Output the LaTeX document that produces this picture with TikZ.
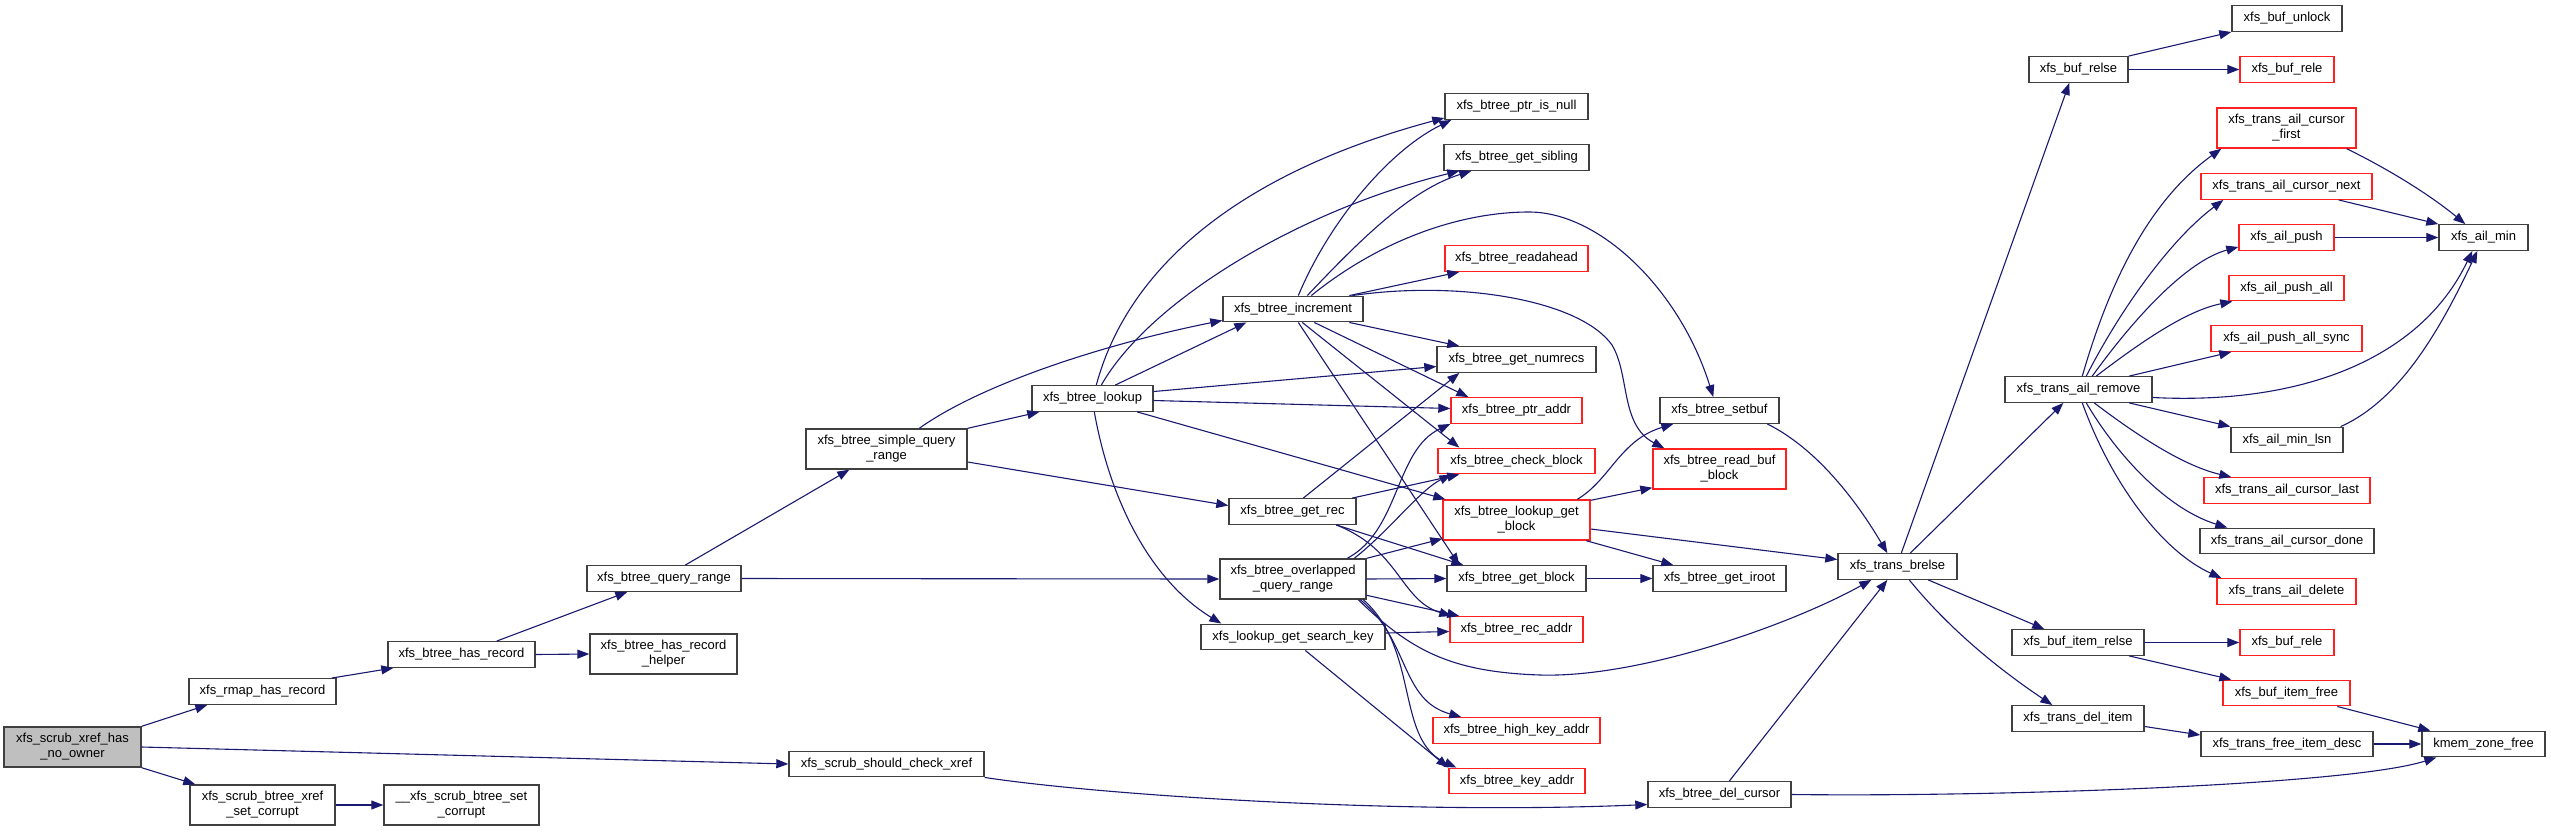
\documentclass[tikz,border=0pt]{standalone}
\usepackage{fontspec}
\setmainfont{Liberation Sans}
\usetikzlibrary{arrows.meta}
\definecolor{edgeblue}{HTML}{191970}
\definecolor{boxgray}{HTML}{404040}
\definecolor{rootfill}{HTML}{BFBFBF}
\definecolor{boxred}{HTML}{FF2020}
\begin{document}
\begin{tikzpicture}[x=1pt,y=-1pt,
 fn/.style={draw=boxgray, line width=1.4pt, fill=white, inner sep=0pt, minimum height=25.5pt, align=center, font=\fontsize{13}{15}\selectfont},
 fn2/.style={fn, minimum height=40pt},
 redbox/.style={draw=boxred},
 call/.style={draw=edgeblue, line width=1.1pt, -{Triangle[length=12pt,width=9pt]}}]
\useasboundingbox (0,0) rectangle (2551,831);

% nodes
\node[fn2, fill=rootfill, minimum width=137pt] (root) at (72.5,747) {xfs\_scrub\_xref\_has\\\_no\_owner};
\node[fn, minimum width=147pt] (rmap) at (262.5,691.5) {xfs\_rmap\_has\_record};
\node[fn, minimum width=147pt] (hasrec) at (461.5,654.5) {xfs\_btree\_has\_record};
\node[fn2, minimum width=145pt] (xrefcorrupt) at (262.5,805) {xfs\_scrub\_btree\_xref\\\_set\_corrupt};
\node[fn2, minimum width=155pt] (setcorrupt) at (461.5,805) {\_\_xfs\_scrub\_btree\_set\\\_corrupt};
\node[fn, minimum width=154pt] (queryrange) at (664,578.5) {xfs\_btree\_query\_range};
\node[fn2, minimum width=147pt] (helper) at (663.5,654) {xfs\_btree\_has\_record\\\_helper};
\node[fn2, minimum width=161pt] (simple) at (886.5,449) {xfs\_btree\_simple\_query\\\_range};
\node[fn, minimum width=195pt] (shouldcheck) at (886.5,764) {xfs\_scrub\_should\_check\_xref};
\node[fn, minimum width=121pt] (lookup) at (1092.5,398.5) {xfs\_btree\_lookup};
\node[fn, minimum width=140pt] (increment) at (1293,309) {xfs\_btree\_increment};
\node[fn, minimum width=127pt] (getrec) at (1292.5,511.5) {xfs\_btree\_get\_rec};
\node[fn2, minimum width=146pt] (overlapped) at (1293,579) {xfs\_btree\_overlapped\\\_query\_range};
\node[fn, minimum width=184pt] (searchkey) at (1293,637) {xfs\_lookup\_get\_search\_key};
\node[fn, minimum width=143pt] (ptrisnull) at (1516.5,106.5) {xfs\_btree\_ptr\_is\_null};
\node[fn, minimum width=145pt] (getsibling) at (1516.5,157.5) {xfs\_btree\_get\_sibling};
\node[fn, redbox, minimum width=143pt] (readahead) at (1516.5,258.5) {xfs\_btree\_readahead};
\node[fn, minimum width=159pt] (getnumrecs) at (1516.5,359.5) {xfs\_btree\_get\_numrecs};
\node[fn, redbox, minimum width=131pt] (ptraddr) at (1516.5,410.5) {xfs\_btree\_ptr\_addr};
\node[fn, redbox, minimum width=157pt] (checkblock) at (1516.5,461) {xfs\_btree\_check\_block};
\node[fn2, redbox, minimum width=147pt] (lookupgetblock) at (1516.5,520) {xfs\_btree\_lookup\_get\\\_block};
\node[fn, minimum width=139pt] (getblock) at (1516.5,578.5) {xfs\_btree\_get\_block};
\node[fn, redbox, minimum width=133pt] (recaddr) at (1516.5,629.5) {xfs\_btree\_rec\_addr};
\node[fn, redbox, minimum width=167pt] (highkey) at (1516.5,730.5) {xfs\_btree\_high\_key\_addr};
\node[fn, redbox, minimum width=136pt] (keyaddr) at (1517,781) {xfs\_btree\_key\_addr};
\node[fn, minimum width=119pt] (setbuf) at (1719.5,410.5) {xfs\_btree\_setbuf};
\node[fn2, redbox, minimum width=133pt] (readbuf) at (1719.5,469) {xfs\_btree\_read\_buf\\\_block};
\node[fn, minimum width=133pt] (getiroot) at (1719.5,578.5) {xfs\_btree\_get\_iroot};
\node[fn, minimum width=143pt] (delcursor) at (1719.5,794.5) {xfs\_btree\_del\_cursor};
\node[fn, minimum width=119pt] (brelse) at (1897.5,566.5) {xfs\_trans\_brelse};
\node[fn, minimum width=99pt] (bufrelse) at (2078.5,69.5) {xfs\_buf\_relse};
\node[fn, minimum width=147pt] (ailremove) at (2078.5,389.5) {xfs\_trans\_ail\_remove};
\node[fn, minimum width=132pt] (bufitemrelse) at (2078,642.5) {xfs\_buf\_item\_relse};
\node[fn, minimum width=132pt] (transdelitem) at (2078,718.5) {xfs\_trans\_del\_item};
\node[fn, minimum width=110pt] (bufunlock) at (2287,18.5) {xfs\_buf\_unlock};
\node[fn, redbox, minimum width=94pt] (bufrele1) at (2287,69.5) {xfs\_buf\_rele};
\node[fn2, redbox, minimum width=139pt] (cursorfirst) at (2286.5,128) {xfs\_trans\_ail\_cursor\\\_first};
\node[fn, redbox, minimum width=171pt] (cursornext) at (2286.5,186.5) {xfs\_trans\_ail\_cursor\_next};
\node[fn, redbox, minimum width=95pt] (ailpush) at (2286.5,237.5) {xfs\_ail\_push};
\node[fn, redbox, minimum width=115pt] (ailpushall) at (2286.5,288) {xfs\_ail\_push\_all};
\node[fn, redbox, minimum width=151pt] (pushallsync) at (2286.5,338.5) {xfs\_ail\_push\_all\_sync};
\node[fn, minimum width=112pt] (minlsn) at (2287,440) {xfs\_ail\_min\_lsn};
\node[fn, redbox, minimum width=166pt] (cursorlast) at (2287,490.5) {xfs\_trans\_ail\_cursor\_last};
\node[fn, minimum width=174pt] (cursordone) at (2287,541) {xfs\_trans\_ail\_cursor\_done};
\node[fn, redbox, minimum width=139pt] (traildelete) at (2286.5,591.5) {xfs\_trans\_ail\_delete};
\node[fn, redbox, minimum width=94pt] (bufrele2) at (2287,642.5) {xfs\_buf\_rele};
\node[fn, redbox, minimum width=127pt] (bufitemfree) at (2286.5,693) {xfs\_buf\_item\_free};
\node[fn, minimum width=172pt] (freeitemdesc) at (2287,744) {xfs\_trans\_free\_item\_desc};
\node[fn, minimum width=89pt] (ailmin) at (2483.5,237.5) {xfs\_ail\_min};
\node[fn, minimum width=123pt] (kmem) at (2483.5,744) {kmem\_zone\_free};

% edges
\draw[call] (root.north east) -- ([xshift=19pt]rmap.south west);
\draw[call] (root.east) -- (shouldcheck.west);
\draw[call] (root.south east) -- ([xshift=6pt]xrefcorrupt.north west);
\draw[call] ([xshift=-5pt]rmap.north east) -- ([xshift=6pt]hasrec.south west);
\draw[call] ([xshift=-39pt]hasrec.north east) -- ([xshift=41pt]queryrange.south west);
\draw[call] (hasrec.east) -- (helper.west);
\draw[call] (xrefcorrupt.east) -- (setcorrupt.west);
\draw[call] ([xshift=99pt]queryrange.north west) -- ([xshift=44pt]simple.south west);
\draw[call] (queryrange.east) -- (overlapped.west);
\draw[call] (simple.north east) -- ([xshift=8pt]lookup.south west);
\draw[call] ([xshift=114pt]simple.north west) .. controls (980,385) and (1100,345) .. ([yshift=2pt]increment.south west);
\draw[call] ([yshift=-13pt]simple.east) -- ([yshift=6pt]getrec.west);
\draw[call] ([xshift=84pt]lookup.north west) -- ([xshift=24pt]increment.south west);
\draw[call] ([xshift=65pt]lookup.north west) .. controls (1130,260) and (1250,170) .. ([yshift=2pt]ptrisnull.south west);
\draw[call] ([xshift=70pt]lookup.north west) .. controls (1150,300) and (1300,210) .. ([xshift=16pt]getsibling.south west);
\draw[call] ([yshift=7pt]lookup.east) -- ([yshift=-7pt]getnumrecs.west);
\draw[call] ([yshift=-2pt]lookup.east) -- ([yshift=2pt]ptraddr.west);
\draw[call] ([xshift=106pt]lookup.south west) -- ([xshift=3pt]lookupgetblock.north west);
\draw[call] ([xshift=63pt]lookup.south west) .. controls (1110,500) and (1150,580) .. ([xshift=21pt]searchkey.north west);
\draw[call] ([xshift=76pt]increment.north west) .. controls (1330,220) and (1390,150) .. ([xshift=7pt]ptrisnull.south west);
\draw[call] ([xshift=85pt]increment.north west) .. controls (1360,240) and (1410,190) .. ([xshift=28pt]getsibling.south west);
\draw[call] ([xshift=89pt]increment.north west) .. controls (1380,240) and (1460,212) .. (1529,212) .. controls (1600,212) and (1680,290) .. ([xshift=54pt]setbuf.north west);
\draw[call] ([xshift=127pt]increment.north west) -- ([xshift=15pt]readahead.south west);
\draw[call] ([xshift=130pt]increment.north west) .. controls (1460,280) and (1580,300) .. (1612,345) .. controls (1630,375) and (1620,425) .. ([xshift=12pt]readbuf.north west);
\draw[call] ([xshift=127pt]increment.south west) -- ([xshift=23pt]getnumrecs.north west);
\draw[call] ([xshift=92pt]increment.south west) -- ([xshift=18pt]ptraddr.north west);
\draw[call] ([xshift=80pt]increment.south west) -- ([xshift=22pt]checkblock.north west);
\draw[call] ([xshift=76pt]increment.south west) -- ([xshift=13pt]getblock.north west);
\draw[call] ([xshift=75pt]getrec.north west) -- ([xshift=23pt]getnumrecs.south west);
\draw[call] ([xshift=124pt]getrec.north west) -- ([xshift=22pt]checkblock.south west);
\draw[call] ([xshift=108pt]getrec.south west) -- ([xshift=17pt]getblock.north west);
\draw[call] ([xshift=108pt]getrec.south west) .. controls (1400,550) and (1400,600) .. ([xshift=2pt]recaddr.north west);
\draw[call] ([xshift=128pt]overlapped.north west) .. controls (1400,530) and (1395,450) .. (ptraddr.south west);
\draw[call] ([xshift=135pt]overlapped.north west) .. controls (1390,530) and (1420,490) .. ([xshift=14pt]checkblock.south west);
\draw[call] (overlapped.north east) -- ([yshift=2pt]lookupgetblock.south west);
\draw[call] (overlapped.east) -- (getblock.west);
\draw[call] ([yshift=-37pt]overlapped.north east) -- ([xshift=10pt]recaddr.north west);
\draw[call] ([xshift=139pt]overlapped.south west) .. controls (1410,650) and (1450,672) .. (1540,675) .. controls (1640,678) and (1790,625) .. ([xshift=34pt]brelse.south west);
\draw[call] ([xshift=141pt]overlapped.south west) .. controls (1410,640) and (1400,700) .. ([xshift=29pt]highkey.north west);
\draw[call] ([xshift=144pt]overlapped.south west) .. controls (1420,650) and (1395,740) .. ([xshift=8pt]keyaddr.north west);
\draw[call] ([yshift=4pt]searchkey.east) -- ([yshift=-2pt]recaddr.west);
\draw[call] ([xshift=105pt]searchkey.south west) -- (keyaddr.north west);
\draw[call] ([xshift=135pt]lookupgetblock.north west) .. controls (1610,480) and (1620,440) .. ([xshift=14pt]setbuf.south west);
\draw[call] ([yshift=-1pt]lookupgetblock.north east) -- ([yshift=2pt]readbuf.south west);
\draw[call] ([yshift=-9pt]lookupgetblock.east) -- ([yshift=7pt]brelse.west);
\draw[call] ([xshift=144pt]lookupgetblock.south west) -- ([xshift=21pt]getiroot.north west);
\draw[call] (getblock.east) -- (getiroot.west);
\draw[call] ([xshift=108pt]setbuf.south west) .. controls (1810,445) and (1850,490) .. ([xshift=50pt]brelse.north west);
\draw[call] ([xshift=82pt]delcursor.north west) -- ([xshift=50pt]brelse.south west);
\draw[call] (delcursor.east) .. controls (2000,797) and (2350,785) .. ([xshift=15pt]kmem.south west);
\draw[call] (shouldcheck.south east) .. controls (1100,795) and (1400,815) .. ([yshift=-10pt]delcursor.west);
\draw[call] ([xshift=64pt]brelse.north west) -- ([xshift=41pt]bufrelse.south west);
\draw[call] ([xshift=73pt]brelse.north west) -- ([xshift=59pt]ailremove.south west);
\draw[call] ([xshift=91pt]brelse.south west) -- ([xshift=33pt]bufitemrelse.north west);
\draw[call] ([xshift=72pt]brelse.south west) .. controls (1950,630) and (2000,670) .. ([xshift=41pt]transdelitem.north west);
\draw[call] (bufrelse.north east) -- (bufunlock.south west);
\draw[call] (bufrelse.east) -- (bufrele1.west);
\draw[call] ([xshift=78pt]ailremove.north west) .. controls (2110,280) and (2150,200) .. ([xshift=5pt]cursorfirst.south west);
\draw[call] ([xshift=82pt]ailremove.north west) .. controls (2120,310) and (2170,240) .. ([xshift=23pt]cursornext.south west);
\draw[call] ([xshift=88pt]ailremove.north west) .. controls (2140,310) and (2190,260) .. ([yshift=4pt]ailpush.south west);
\draw[call] ([xshift=92pt]ailremove.north west) .. controls (2150,335) and (2190,310) .. ([xshift=4pt]ailpushall.south west);
\draw[call] ([xshift=125pt]ailremove.north west) -- ([xshift=21pt]pushallsync.south west);
\draw[call] ([yshift=-8pt]ailremove.east) .. controls (2300,405) and (2420,360) .. ([xshift=34pt]ailmin.south west);
\draw[call] ([xshift=125pt]ailremove.south west) -- (minlsn.north west);
\draw[call] ([xshift=90pt]ailremove.south west) .. controls (2130,430) and (2180,465) .. ([xshift=28pt]cursorlast.north west);
\draw[call] ([xshift=82pt]ailremove.south west) .. controls (2120,460) and (2170,510) .. ([xshift=28pt]cursordone.north west);
\draw[call] ([xshift=78pt]ailremove.south west) .. controls (2110,480) and (2160,550) .. ([xshift=5pt]traildelete.north west);
\draw[call] ([xshift=-10pt]cursorfirst.south east) .. controls (2390,170) and (2430,195) .. ([xshift=27pt]ailmin.north west);
\draw[call] ([xshift=-34pt]cursornext.south east) -- (ailmin.north west);
\draw[call] (ailpush.east) -- (ailmin.west);
\draw[call] ([xshift=-3pt]minlsn.north east) .. controls (2400,400) and (2440,330) .. ([xshift=39pt]ailmin.south west);
\draw[call] (bufitemrelse.east) -- (bufrele2.west);
\draw[call] ([xshift=118pt]bufitemrelse.south west) -- ([xshift=9pt]bufitemfree.north west);
\draw[call] ([xshift=115pt]bufitemfree.south west) -- ([xshift=9pt]kmem.north west);
\draw[call] ([yshift=-8pt]transdelitem.east) -- ([yshift=9pt]freeitemdesc.west);
\draw[call] (freeitemdesc.east) -- (kmem.west);
\end{tikzpicture}
\end{document}
